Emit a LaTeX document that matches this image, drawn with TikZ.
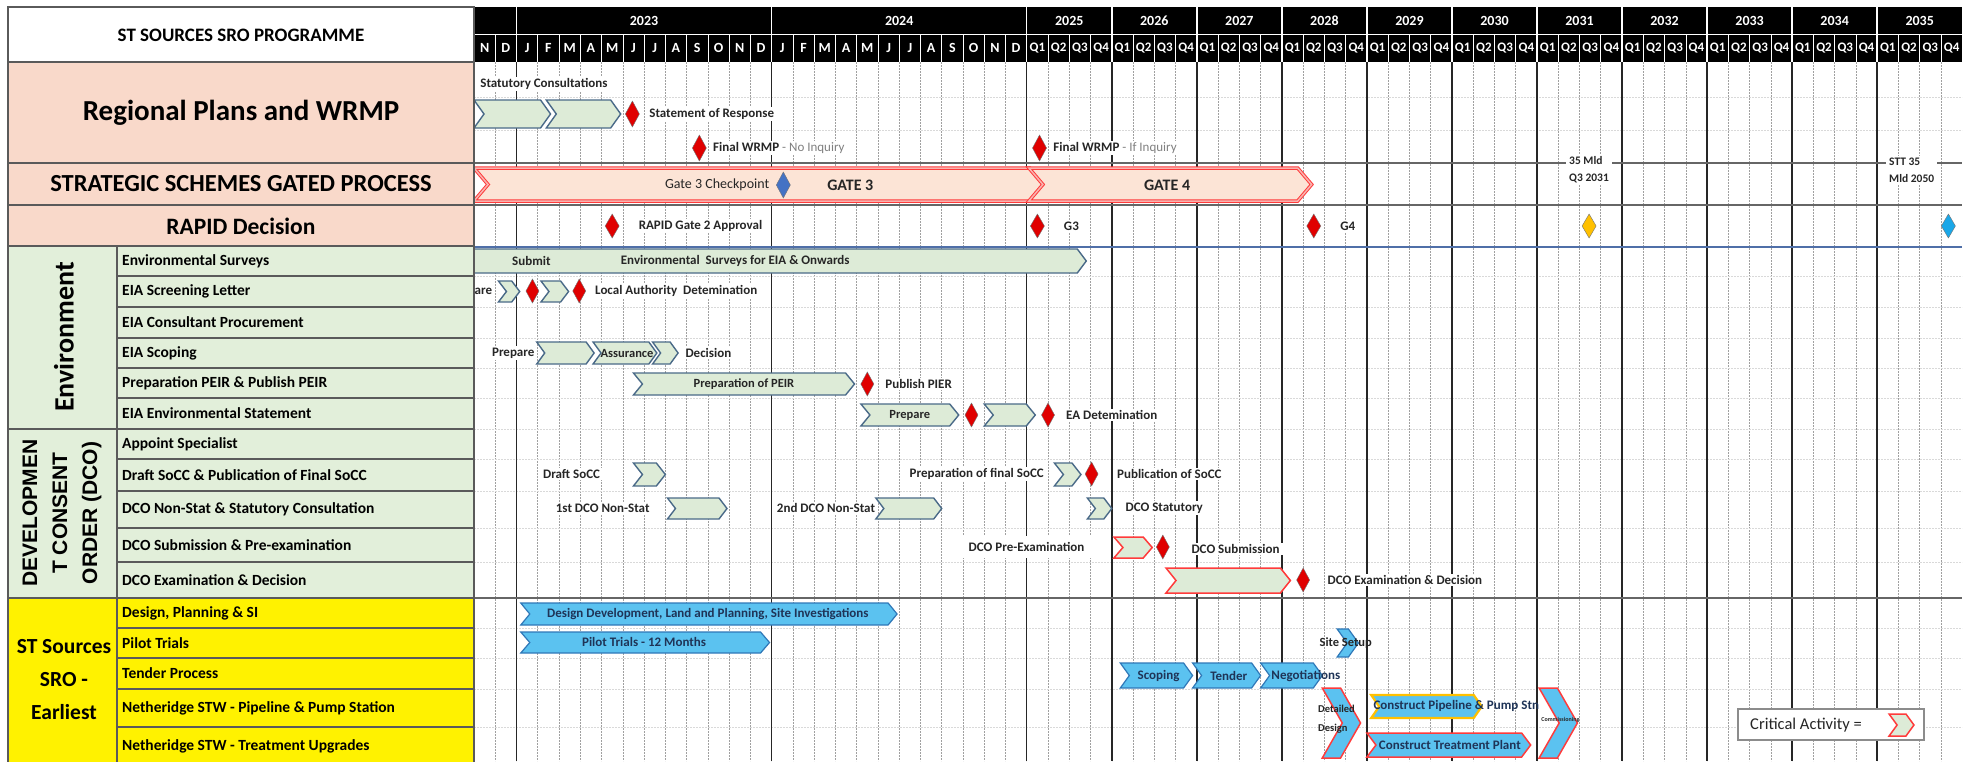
\documentclass[tikz,border=0pt]{standalone}
\usepackage{fontspec}
\setmainfont{Carlito}
\newfontfamily\arialfont{Liberation Sans}
\definecolor{peach}{HTML}{F9D9CA}
\definecolor{envgreen}{HTML}{E2EFDA}
\definecolor{chevgreen}{HTML}{DDEBD7}
\definecolor{chevedge}{HTML}{4A6A88}
\definecolor{critred}{HTML}{FF3B3B}
\definecolor{gatefill}{HTML}{FCE4D6}
\definecolor{gateinner}{HTML}{F8B4B0}
\definecolor{bluefill}{HTML}{5BC2F0}
\definecolor{blueedge}{HTML}{2F78B8}
\definecolor{navy}{HTML}{1F3457}
\definecolor{diared}{HTML}{E00000}
\definecolor{diablue}{HTML}{4472C4}
\definecolor{diayellow}{HTML}{FFC000}
\definecolor{diacyan}{HTML}{1AA7E8}
\definecolor{cellborder}{HTML}{5A5A5A}
\definecolor{gridminor}{HTML}{A0A0A0}
\definecolor{labeltext}{HTML}{262626}
\definecolor{envline}{HTML}{4F6FA8}
\newcommand\cx[1]{474+21.26*(#1)}
\newcommand\chev[6]{%
  \pgfmathsetmacro\chxa{474+21.26*(#2)}%
  \pgfmathsetmacro\chxb{474+21.26*(#3)}%
  \pgfmathsetmacro\chym{(#4+#5)/2}%
  \draw[#1] (\chxa,#4) -- ({\chxb-#6},#4) -- (\chxb,\chym) -- ({\chxb-#6},#5) -- (\chxa,#5) -- ({\chxa+#6},\chym) -- cycle;%
}
\newcommand\dia[5]{%
  \pgfmathsetmacro\dxc{474+21.26*(#2)}%
  \draw[diam,fill=#1] (\dxc,{#3-#5}) -- ({\dxc+#4},#3) -- (\dxc,{#3+#5}) -- ({\dxc-#4},#3) -- cycle;%
}
\newcommand\lpitem[5]{%
  \draw[lpcell,fill=#3] (117,#1) rectangle (474,#2);
  \node[itemlbl] (#5) at (122,{(#1+#2)/2}) {#4};%
}
\begin{document}
\begin{tikzpicture}[x=1pt,y=-1pt,
  lbl/.style={fill=white, inner xsep=3pt, inner ysep=1.5pt, text=labeltext, font=\bfseries\fontsize{13}{15}\selectfont},
  ctext/.style={text=labeltext, font=\bfseries\fontsize{12.5}{14}\selectfont, inner sep=0pt},
  btext/.style={text=navy, font=\bfseries\fontsize{13}{15}\selectfont, inner sep=0pt},
  greenchev/.style={fill=chevgreen, draw=chevedge, line width=1.4pt},
  critchev/.style={fill=chevgreen, draw=critred, line width=1.5pt},
  gatechev/.style={fill=gatefill, draw=critred, line width=1pt, double=gateinner, double distance=1.5pt},
  bluechev/.style={fill=bluefill, draw=blueedge, line width=1.2pt},
  bluecrit/.style={fill=bluefill, draw=critred, line width=1.5pt},
  blueyel/.style={fill=bluefill, draw=diayellow, line width=2.2pt},
  diam/.style={draw=black!55, line width=0.4pt},
  lpcell/.style={draw=cellborder, line width=1.8pt},
  itemlbl/.style={anchor=west, text=black, font=\bfseries\fontsize{15.5}{17}\selectfont, inner sep=0pt},
  hdrtxt/.style={text=white, font=\bfseries\fontsize{14}{16}\selectfont, inner sep=0pt},
  minorline/.style={draw=gridminor, line width=0.6pt, dash pattern=on 2pt off 1pt},
  majorline/.style={draw=black!85, line width=1.4pt},
  rowline/.style={draw=black!15, line width=0.6pt, dash pattern=on 2pt off 1pt},
  groupline/.style={draw=black!60, line width=2.2pt}
]
\useasboundingbox (0,0) rectangle (1968,761);
\fill[white] (0,0) rectangle (1968,761);

% ---------------- chart body ----------------
\begin{scope}
\clip (474,62) rectangle (1962,761);
\foreach \i in {1,...,69} \draw[minorline] ({\cx{\i}},62) -- ({\cx{\i}},761);
\foreach \yy in {97,130,276,307,338,368,398,429,459,491,528,562,628,658,689,727}
  \draw[rowline] (474,\yy) -- (1962,\yy);
\foreach \i in {2,14,26,30,...,66} \draw[majorline] ({\cx{\i}},62) -- ({\cx{\i}},761);
\foreach \yy in {163,205,598} \draw[groupline] (474,\yy) -- (1962,\yy);
\draw[envline, line width=2pt] (474,247) -- (1962,247);

% labels with white boxes
\node[lbl,anchor=west] (statcons) at ({\cx{0.15}},84) {Statutory Consultations};
\node[lbl,anchor=west] (sor) at ({\cx{8.1}},114) {Statement of Response};
\node[lbl,anchor=west] (fwno) at ({\cx{11.1}},148) {Final WRMP \textcolor{gray}{\mdseries - No Inquiry}};
\node[lbl,anchor=west] (fwif) at ({\cx{27.1}},148) {Final WRMP \textcolor{gray}{\mdseries - If Inquiry}};
\node[lbl,anchor=west,align=left,font=\bfseries\fontsize{11.5}{17}\selectfont] (mld) at (1566,170) {35 Mld\\Q3 2031};
\node[lbl,anchor=west,align=left,font=\bfseries\fontsize{11.5}{17}\selectfont] (stt) at (1886,170) {STT 35\\Mld 2050};
\node[lbl,anchor=west] (rapid2) at ({\cx{7.6}},226) {RAPID Gate 2 Approval};
\node[lbl,anchor=west] (g3) at ({\cx{27.6}},226) {G3};
\node[lbl,anchor=west] (g4) at ({\cx{40.6}},226) {G4};
\node[lbl,anchor=east] (prep1) at ({\cx{1.0}},291) {Prepare};
\node[lbl,anchor=west] (lad) at ({\cx{5.55}},291) {Local Authority\ \ Detemination};
\node[lbl,anchor=west] (prep2) at ({\cx{0.7}},353) {Prepare};
\node[lbl,anchor=west] (decis) at ({\cx{9.8}},353) {Decision};
\node[lbl,anchor=west] (pubpier) at ({\cx{19.2}},384) {Publish PIER};
\node[lbl,anchor=west] (eadet) at ({\cx{27.7}},415) {EA Detemination};
\node[lbl,anchor=west] (draftsocc) at ({\cx{3.1}},474) {Draft SoCC};
\node[lbl,anchor=east] (prepsocc) at ({\cx{26.95}},474) {Preparation of final SoCC};
\node[lbl,anchor=west] (pubsocc) at ({\cx{30.1}},474) {Publication of SoCC};
\node[lbl,anchor=west] (dco1) at ({\cx{3.7}},508) {1st DCO Non-Stat};
\node[lbl,anchor=west] (dco2) at ({\cx{14.1}},508) {2nd DCO Non-Stat};
\node[lbl,anchor=west] (dcostat) at ({\cx{30.5}},508) {DCO Statutory};
\node[lbl,anchor=east,inner xsep=8pt,inner ysep=6pt] (dcopre) at ({\cx{29.1}},547) {DCO Pre-Examination};
\node[lbl,anchor=west] (dcosub) at ({\cx{33.6}},549) {DCO Submission};
\node[lbl,anchor=west] (dcoexam) at ({\cx{40.0}},580) {DCO Examination \& Decision};

% chevrons
\chev{greenchev}{0}{3.6}{100}{128}{10}
\chev{greenchev}{3.4}{6.9}{100}{128}{10}
\chev{gatechev}{0}{26.8}{168}{201}{14}
\chev{gatechev}{26.1}{39.4}{168}{201}{14}
\chev{greenchev}{-0.6}{28.8}{249}{273}{9}
\chev{greenchev}{1.15}{2.15}{281}{302}{8}
\chev{greenchev}{3.15}{4.45}{281}{302}{8}
\chev{greenchev}{2.95}{5.65}{342}{364}{8}
\chev{greenchev}{5.6}{8.6}{342}{364}{8}
\chev{greenchev}{8.4}{9.6}{342}{364}{8}
\chev{greenchev}{7.5}{17.9}{373}{395}{9}
\chev{greenchev}{18.2}{22.8}{404}{426}{9}
\chev{greenchev}{24.0}{26.4}{404}{426}{9}
\chev{greenchev}{7.5}{9.0}{463}{486}{9}
\chev{greenchev}{27.3}{28.55}{463}{486}{9}
\chev{greenchev}{9.1}{11.9}{498}{519}{8}
\chev{greenchev}{18.9}{22.0}{498}{519}{8}
\chev{greenchev}{28.85}{30.0}{498}{519}{8}
\chev{critchev}{30.1}{31.9}{537}{558}{9}
\chev{critchev}{32.55}{38.4}{568}{593}{10}
\chev{bluechev}{2.2}{19.9}{603}{625}{9}
\chev{bluechev}{2.2}{13.9}{632}{653}{9}
\chev{bluechev}{40.6}{41.6}{629}{657}{10}
\chev{bluechev}{30.4}{33.8}{663}{688}{9}
\chev{bluechev}{33.8}{37.0}{663}{688}{9}
\chev{bluechev}{37.0}{39.9}{663}{688}{9}
\chev{bluecrit}{39.9}{41.7}{688}{758}{20}
\chev{blueyel}{42.2}{47.4}{695}{718}{8}
\chev{bluecrit}{42.0}{49.7}{733}{757}{9}
\chev{bluecrit}{50.1}{51.9}{688}{758}{20}

% texts on chevrons
\node[ctext,font=\fontsize{14}{16}\selectfont,anchor=east] (g3cp) at ({\cx{13.9}},185) {Gate 3 Checkpoint};
\node[ctext,font=\bfseries\fontsize{16}{18}\selectfont] (gate3) at ({\cx{17.7}},185) {GATE 3};
\node[ctext,font=\bfseries\fontsize{16}{18}\selectfont] (gate4) at ({\cx{32.6}},185) {GATE 4};
\node[ctext,font=\bfseries\fontsize{13}{15}\selectfont] (submit) at ({\cx{2.7}},261) {Submit};
\node[ctext,font=\bfseries\fontsize{13}{15}\selectfont,anchor=west] (envsurv) at ({\cx{6.9}},261) {Environmental\ \ Surveys for EIA \& Onwards};
\node[ctext] (assur) at ({\cx{7.2}},353) {Assurance};
\node[ctext] (peir) at ({\cx{12.7}},384) {Preparation of PEIR};
\node[ctext] (prep3) at ({\cx{20.5}},415) {Prepare};
\node[btext] (design) at ({\cx{11.0}},614) {Design Development, Land and Planning, Site Investigations};
\node[btext] (pilot) at ({\cx{8.0}},642) {Pilot Trials - 12 Months};
\node[ctext] (sitesetup) at ({\cx{41.0}},643) {Site Setup};
\node[btext] (scoping) at ({\cx{32.2}},676) {Scoping};
\node[btext] (tender) at ({\cx{35.5}},676) {Tender};
\node[btext,anchor=west] (negot) at ({\cx{37.5}},676) {Negotiations};
\node[ctext,font=\bfseries\fontsize{10.5}{12}\selectfont,anchor=west] (detailed) at ({\cx{39.7}},709) {Detailed};
\node[ctext,font=\bfseries\fontsize{10.5}{12}\selectfont,anchor=west] (designlbl) at ({\cx{39.7}},729) {Design};
\node[btext,anchor=west] (pipeline) at ({\cx{42.3}},706) {Construct Pipeline \& Pump Stn};
\node[btext] (treat) at ({\cx{45.9}},745) {Construct Treatment Plant};
\node[ctext,font=\bfseries\fontsize{6}{7}\selectfont] (commis) at ({\cx{51.1}},720) {Commissioning};

% diamonds
\dia{diared}{7.45}{114}{7}{13}
\dia{diared}{10.6}{148}{7}{13}
\dia{diared}{26.6}{148}{7}{13}
\dia{diablue}{14.55}{185}{7}{13}
\dia{diared}{6.5}{226}{7}{12}
\dia{diared}{26.5}{226}{7}{12}
\dia{diared}{39.5}{226}{7}{12}
\dia{diayellow}{52.45}{226}{7}{12}
\dia{diacyan}{69.35}{226}{7}{12}
\dia{diared}{2.75}{291}{6.5}{12}
\dia{diared}{4.95}{291}{6.5}{12}
\dia{diared}{18.5}{384}{6.5}{12}
\dia{diared}{23.4}{415}{6.5}{12}
\dia{diared}{27.0}{415}{6.5}{12}
\dia{diared}{29.05}{474}{6.5}{12}
\dia{diared}{32.4}{547}{6.5}{12}
\dia{diared}{39.0}{580}{6.5}{12}

% legend box
\draw[draw=black!45, line width=1.2pt, fill=white] (1738,709) rectangle (1924,740);
\node[anchor=west, text=labeltext, font=\fontsize{16.5}{18}\selectfont, inner sep=0pt] (critlbl) at (1750,725) {Critical Activity =};
\chev{critchev}{66.56}{67.73}{714}{736}{8}
\end{scope}

% ---------------- header ----------------
\fill[black] (474,7) rectangle (1962,62);
\draw[white, line width=0.8pt] (474,34) -- (1962,34);
\foreach \i in {1,...,69} \draw[white, line width=0.6pt] ({\cx{\i}},34) -- ({\cx{\i}},62);
\foreach \i in {2,14,26,30,...,66} \draw[white, line width=1.4pt] ({\cx{\i}},7) -- ({\cx{\i}},62);
\node[hdrtxt] (y2023) at ({\cx{8}},21) {2023};
\node[hdrtxt] (y2024) at ({\cx{20}},21) {2024};
\foreach \yr [count=\k from 0] in {2025,...,2035}
  \node[hdrtxt] (y\yr) at ({\cx{28+4*\k}},21) {\yr};
\foreach \m [count=\k from 0] in {N,D,J,F,M,A,M,J,J,A,S,O,N,D,J,F,M,A,M,J,J,A,S,O,N,D}
  \node[hdrtxt] (m\k) at ({\cx{\k+0.5}},48) {\m};
\foreach \k in {26,...,69} {
  \pgfmathtruncatemacro\qn{mod(\k-26,4)+1}
  \node[hdrtxt,font=\bfseries\fontsize{13}{15}\selectfont] (q\k) at ({\cx{\k+0.5}},48) {Q\qn};
}

% ---------------- left panel ----------------
\draw[lpcell,fill=white] (8,7) rectangle (474,62);
\node[font=\bfseries\fontsize{19}{21}\selectfont] (title) at (241,35) {ST SOURCES SRO PROGRAMME};
\draw[lpcell,fill=peach] (8,62) rectangle (474,163);
\node[font=\bfseries\fontsize{29}{31}\selectfont] (regional) at (241,113) {Regional Plans and WRMP};
\draw[lpcell,fill=peach] (8,163) rectangle (474,205);
\node[font=\bfseries\fontsize{24.5}{26}\selectfont] (strategic) at (241,184) {STRATEGIC SCHEMES GATED PROCESS};
\draw[lpcell,fill=peach] (8,205) rectangle (474,246);
\node[font=\bfseries\fontsize{23.5}{25}\selectfont] (rapid) at (241,226) {RAPID Decision};

\draw[lpcell,fill=envgreen] (8,246) rectangle (117,429);
\node[rotate=90,font=\bfseries\fontsize{28}{30}\selectfont] (envgrp) at (64,337) {Environment};
\draw[lpcell,fill=envgreen] (8,429) rectangle (117,598);
\node[rotate=90,align=center,font=\arialfont\bfseries\fontsize{21}{30}\selectfont] (dcogrp) at (62,513) {DEVELOPMEN\\T CONSENT\\ORDER (DCO)};
\draw[lpcell,fill=yellow] (8,598) rectangle (117,765);
\node[align=center,font=\bfseries\fontsize{21.5}{33}\selectfont] (stgrp) at (64,680) {ST Sources\\SRO -\\Earliest};

\lpitem{246}{276}{envgreen}{Environmental Surveys}{it1}
\lpitem{276}{307}{envgreen}{EIA Screening Letter}{it2}
\lpitem{307}{338}{envgreen}{EIA Consultant Procurement}{it3}
\lpitem{338}{368}{envgreen}{EIA Scoping}{it4}
\lpitem{368}{398}{envgreen}{Preparation PEIR \& Publish PEIR}{it5}
\lpitem{398}{429}{envgreen}{EIA Environmental Statement}{it6}
\lpitem{429}{459}{envgreen}{Appoint Specialist}{it7}
\lpitem{459}{491}{envgreen}{Draft SoCC \& Publication of Final SoCC}{it8}
\lpitem{491}{528}{envgreen}{DCO Non-Stat \& Statutory Consultation}{it9}
\lpitem{528}{562}{envgreen}{DCO Submission \& Pre-examination}{it10}
\lpitem{562}{598}{envgreen}{DCO Examination \& Decision}{it11}
\lpitem{598}{628}{yellow}{Design, Planning \& SI}{it12}
\lpitem{628}{658}{yellow}{Pilot Trials}{it13}
\lpitem{658}{689}{yellow}{Tender Process}{it14}
\lpitem{689}{727}{yellow}{Netheridge STW - Pipeline \& Pump Station}{it15}
\lpitem{727}{765}{yellow}{Netheridge STW - Treatment Upgrades}{it16}
\end{tikzpicture}
\end{document}
